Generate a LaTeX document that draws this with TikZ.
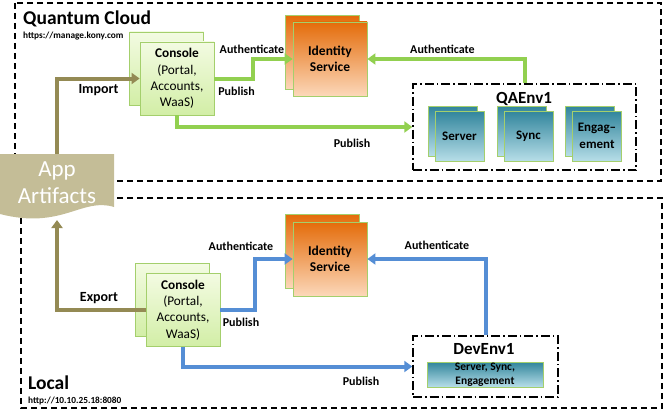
\documentclass[tikz,border=0pt]{standalone}
\usepackage{fontspec}
\setmainfont{Carlito}
\usepackage{tikz}
\usetikzlibrary{arrows.meta,calc}

\definecolor{flowgreen}{HTML}{92D050}
\definecolor{flowblue}{HTML}{558ED5}
\definecolor{flowolive}{HTML}{948A54}
\definecolor{apptan}{HTML}{C4BD97}
\definecolor{boxedge}{HTML}{A4CF6C}
\definecolor{consoletop}{HTML}{F3FBE2}
\definecolor{consolebot}{HTML}{D2EEA6}
\definecolor{idtop}{HTML}{E46C0A}
\definecolor{idbot}{HTML}{FCD8BA}
\definecolor{tealtop}{HTML}{31859C}
\definecolor{tealbot}{HTML}{B7DEE8}

\tikzset{
  zone/.style={draw=black, line width=1.4pt, dash pattern=on 6pt off 4pt},
  envbox/.style={draw=black, line width=1.4pt, dash pattern=on 9pt off 3pt on 1.5pt off 3pt, inner sep=0pt},
  consolebox/.style={draw=boxedge, line width=0.8pt, top color=consoletop, bottom color=consolebot,
    minimum width=74pt, minimum height=73pt, inner sep=0pt, align=center,
    font=\fontsize{13.3}{16.3}\selectfont},
  idbox/.style={draw=boxedge, line width=0.8pt, top color=idtop, bottom color=idbot,
    minimum width=74pt, minimum height=74pt, inner sep=0pt, align=center,
    font=\fontsize{13.5}{16}\selectfont\bfseries},
  tealbox/.style={draw=boxedge, line width=0.8pt, top color=tealtop, bottom color=tealbot,
    minimum width=49pt, minimum height=50pt, inner sep=0pt, align=center,
    font=\fontsize{13}{17}\selectfont\bfseries},
  zonetitle/.style={anchor=base west, inner sep=0pt, font=\fontsize{19.5}{22}\selectfont\bfseries},
  zoneurl/.style={anchor=base west, inner sep=0pt, font=\fontsize{9.3}{11}\selectfont\bfseries},
  envtitle/.style={inner sep=0pt, font=\fontsize{17}{20}\selectfont\bfseries},
  flowlabel/.style={inner sep=0pt, font=\fontsize{12}{13}\selectfont\bfseries},
  movelabel/.style={inner sep=0pt, font=\fontsize{14}{16}\selectfont\bfseries},
  flow/.style={line width=4pt, -{Triangle[length=8pt,width=11pt]}},
  greenflow/.style={flow, draw=flowgreen, -{Triangle[length=8pt,width=11pt,fill=flowgreen]}},
  blueflow/.style={flow, draw=flowblue},
  oliveflow/.style={flow, draw=flowolive},
}

\begin{document}
\begin{tikzpicture}[x=1pt,y=-1pt]
\useasboundingbox (0,0) rectangle (663,412);

% zones
\draw[zone] (15,3) rectangle (661,181);
\draw[zone] (21,198) rectangle (662,408);
\node[zonetitle] (cloudtitle) at (23,25) {Quantum Cloud};
\node[zoneurl] (cloudurl) at (23,38) {https://manage.kony.com};
\node[zonetitle] (localtitle) at (28,389) {Local};
\node[zoneurl] (localurl) at (28,403) {http://10.10.25.18:8080};

% app artifacts
\fill[apptan] (0,154) -- (114,154) -- (114,207)
  .. controls (82,197) and (62,230) .. (0,214) -- cycle;
\node[text=white, align=center, font=\fontsize{23}{27}\selectfont] (app) at (57,183) {App\\Artifacts};
\coordinate (app top) at (57,154);
\coordinate (app bot) at (57,220);

% quantum cloud
\node[consolebox] (console back) at (166.5,68.5) {};
\node[consolebox] (console) at (177,78.5) {\textbf{Console}\\(Portal,\\Accounts,\\WaaS)};
\node[idbox] (identity back) at (322,52.5) {};
\node[idbox] (identity) at (330,59) {Identity\\Service};
\node[envbox, minimum width=223pt, minimum height=86pt] (qaenv) at (524.5,127) {};
\node[envtitle] (qatitle) at (524,99) {QAEnv1};
\node[tealbox] (server back) at (452.5,131) {};
\node[tealbox] (server) at (459.5,136) {Server};
\node[tealbox] (sync back) at (521.5,131) {};
\node[tealbox] (sync) at (528.5,136) {Sync};
\node[tealbox] (engage back) at (590,131) {};
\node[tealbox] (engage) at (597,136) {Engag--\\ement};

\draw[greenflow] (console.east) -- ++(39,0) |- (identity.west);
\draw[greenflow] (console.south) |- (qaenv.west);
\draw[greenflow] (qaenv.north) |- (identity.east);
\draw[oliveflow] (app top) |- (console.west);

\node[flowlabel] (auth1) at (252,49) {Authenticate};
\node[flowlabel] (pub1) at (236.5,91) {Publish};
\node[flowlabel] (pub2) at (352,143) {Publish};
\node[flowlabel] (auth2) at (442.5,49) {Authenticate};
\node[movelabel] (import) at (98.5,90) {Import};

% local
\node[consolebox] (console2 back) at (172,300) {};
\node[consolebox] (console2) at (183,310) {\textbf{Console}\\(Portal,\\Accounts,\\WaaS)};
\node[idbox] (identity2 back) at (322.5,251.5) {};
\node[idbox] (identity2) at (330,259) {Identity\\Service};
\node[envbox, minimum width=145pt, minimum height=61pt] (devenv) at (485.5,366.5) {};
\node[envtitle] (devtitle) at (484,349.5) {DevEnv1};
\node[tealbox, minimum width=116pt, minimum height=25pt, font=\fontsize{11.5}{13.5}\selectfont\bfseries] (devservices) at (485,374.5) {Server, Sync,\\Engagement};

\draw[blueflow] (console2.east) -- ++(35,0) |- (identity2.west);
\draw[blueflow] (console2.south) |- (devenv.west);
\draw[blueflow] (devenv.north) |- (identity2.east);
\draw[oliveflow] (console2.west) -| (app bot);

\node[flowlabel] (auth3) at (241,246) {Authenticate};
\node[flowlabel] (pub3) at (241,322) {Publish};
\node[flowlabel] (pub4) at (361,381) {Publish};
\node[flowlabel] (auth4) at (437,245) {Authenticate};
\node[movelabel] (export) at (99,298) {Export};
\end{tikzpicture}
\end{document}
